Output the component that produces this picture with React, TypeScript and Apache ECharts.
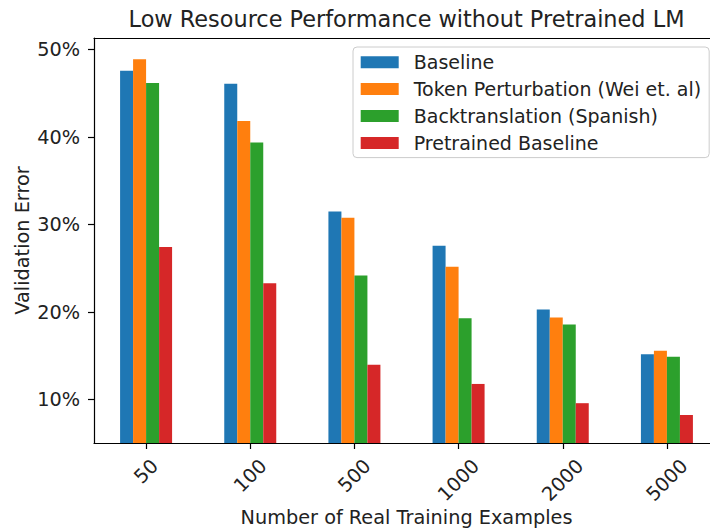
import React, { useEffect, useRef } from "react";
import * as echarts from "echarts";

const categories = ["50", "100", "500", "1000", "2000", "5000"];
const seriesNames = [
  "Baseline",
  "Token Perturbation (Wei et. al)",
  "Backtranslation (Spanish)",
  "Pretrained Baseline",
];
const baseline = [47.6, 46.1, 31.5, 27.6, 20.3, 15.2];
const tokenPerturbation = [48.9, 41.85, 30.8, 25.2, 19.4, 15.6];
const backtranslation = [46.2, 39.4, 24.2, 19.3, 18.6, 14.9];
const pretrainedBaseline = [27.45, 23.3, 14.0, 11.8, 9.6, 8.25];
const yTicks = [10, 20, 30, 40, 50];
const colors = ["#1f77b4", "#ff7f0e", "#2ca02c", "#d62728"];

const FONT = "DejaVu Sans";
const TXT = "#222222";
const FS = 19.3;

export default function App() {
  const ref = useRef<HTMLDivElement>(null);
  useEffect(() => {
    if (!ref.current) return;
    const chart = echarts.init(ref.current, undefined, { renderer: "svg" });
    const allSeries = [baseline, tokenPerturbation, backtranslation, pretrainedBaseline];
    const richBase = { fontFamily: FONT, fontSize: FS, color: TXT };
    const charPad = 0.5 * 0.636 * FS;
    const spine = { show: true, lineStyle: { color: "#000000", width: 1.2 } };
    chart.setOption({
      animation: false,
      backgroundColor: "#ffffff",
      textStyle: { fontFamily: FONT },
      title: {
        text: "Low Resource Performance without Pretrained LM",
        left: 406.5,
        top: 8,
        padding: 0,
        textAlign: "center",
        textVerticalAlign: "top",
        textStyle: { fontFamily: FONT, fontSize: 22.4, fontWeight: "normal", color: TXT, lineHeight: 22.4 },
      },
      legend: {
        orient: "vertical",
        left: 353,
        top: 47,
        padding: [4.2, 8, 3.7, 7.7],
        itemWidth: 38,
        itemHeight: 12,
        itemGap: 4.9,
        icon: "rect",
        backgroundColor: "#ffffff",
        borderColor: "#cccccc",
        borderWidth: 1,
        borderRadius: 4,
        data: seriesNames,
        textStyle: { fontFamily: FONT, fontSize: 19, color: TXT, lineHeight: 22, padding: [0, 0, 0, 10] },
      },
      grid: {
        left: 94,
        top: 38,
        width: 625,
        height: 405,
        show: false,
        containLabel: false,
        outerBoundsMode: "none",
      },
      xAxis: [
        {
          type: "category",
          data: categories,
          z: 5,
          name: "Number of Real Training Examples",
          nameLocation: "middle",
          nameGap: 65.4,
          nameMoveOverlap: false,
          nameTextStyle: { fontFamily: FONT, fontSize: FS, color: TXT },
          axisLine: spine,
          axisTick: { show: true, alignWithLabel: true, length: 6, lineStyle: { color: "#000000", width: 1.2 } },
          axisLabel: {
            interval: 0,
            rotate: 45,
            align: "center",
            verticalAlign: "middle",
            margin: 28.5,
            hideOverlap: false,
            fontFamily: FONT,
            fontSize: FS,
            color: TXT,
            formatter: (v: string) => `{p${Math.max(0, v.length - 2)}|${v}}`,
            rich: {
              p0: { ...richBase },
              p1: { ...richBase, padding: [charPad, charPad, 0, 0] },
              p2: { ...richBase, padding: [2 * charPad, 2 * charPad, 0, 0] },
            },
          },
          splitLine: { show: false },
        },
        {
          type: "category",
          data: categories,
          position: "top",
          z: 5,
          axisLine: spine,
          axisTick: { show: false },
          axisLabel: { show: false },
          splitLine: { show: false },
        },
      ],
      yAxis: {
        type: "value",
        min: 5.05,
        max: 51.34,
        z: 5,
        name: "Validation Error",
        nameLocation: "middle",
        nameGap: 62,
        nameMoveOverlap: false,
        nameTextStyle: { fontFamily: FONT, fontSize: FS, color: TXT },
        axisLine: spine,
        axisTick: { show: true, length: 6, customValues: yTicks, lineStyle: { color: "#000000", width: 1.2 } },
        axisLabel: {
          customValues: yTicks,
          margin: 14,
          fontFamily: FONT,
          fontSize: FS,
          color: TXT,
          formatter: (v: number) => `${Math.round(v)}%`,
        },
        splitLine: { show: false },
      },
      series: seriesNames.map((name, i) => ({
        name,
        type: "bar",
        xAxisIndex: 0,
        data: allSeries[i],
        barWidth: 13,
        barGap: "0%",
        itemStyle: { color: colors[i] },
      })),
    });
    return () => chart.dispose();
  }, []);
  return <div ref={ref} style={{ width: 710, height: 531, position: "absolute", left: 0, top: 0 }} />;
}
